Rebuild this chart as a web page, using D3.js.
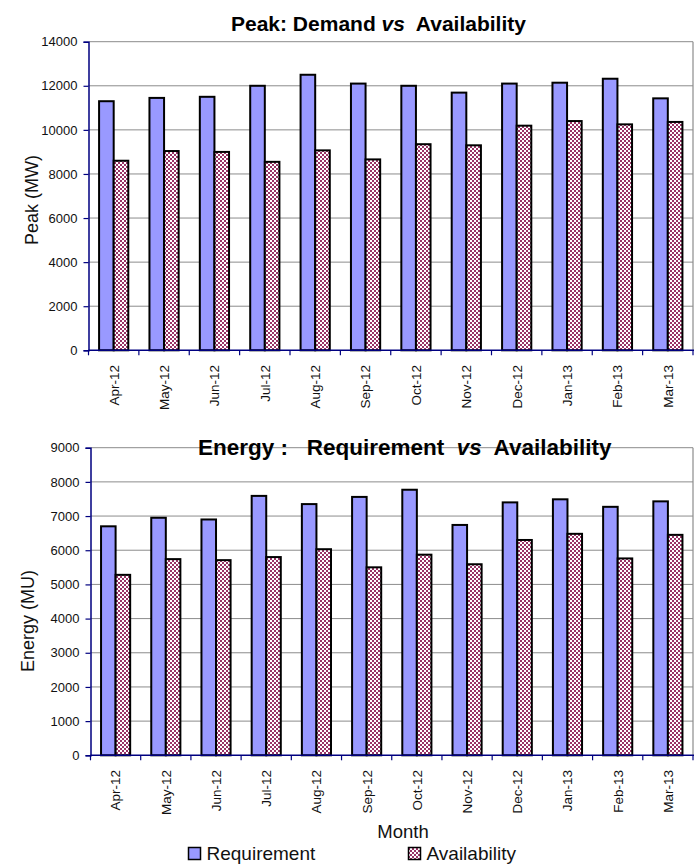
<!DOCTYPE html>
<html>
<head>
<meta charset="utf-8">
<script src="https://cdn.jsdelivr.net/npm/d3@7"></script>
<style>
  html, body { margin: 0; padding: 0; background: #fff; }
  svg { display: block; font-family: "Liberation Sans", Arial, sans-serif; }
  text { white-space: pre; }
</style>
</head>
<body>
<svg id="chart" width="694" height="864"></svg>
<script>
// Monthly peak and energy balance, Apr-12 to Mar-13
const months = ["Apr-12","May-12","Jun-12","Jul-12","Aug-12","Sep-12","Oct-12","Nov-12","Dec-12","Jan-13","Feb-13","Mar-13"];

const peakRequirement  = [11300, 11450, 11500, 12000, 12500, 12100, 12000, 11690, 12100, 12140, 12320, 11430];
const peakAvailability = [8600, 9040, 9000, 8550, 9070, 8660, 9350, 9300, 10190, 10400, 10250, 10360];
const peakTicks = [0, 2000, 4000, 6000, 8000, 10000, 12000, 14000];

const energyRequirement  = [6700, 6950, 6900, 7590, 7350, 7560, 7770, 6740, 7400, 7490, 7270, 7430];
const energyAvailability = [5280, 5740, 5710, 5800, 6030, 5500, 5870, 5590, 6300, 6480, 5760, 6450];
const energyTicks = [0, 1000, 2000, 3000, 4000, 5000, 6000, 7000, 8000, 9000];

const seriesNames = ["Requirement", "Availability"];

const svg = d3.select("#chart");
const NAVY = "#000080", GRID = "#8c8c8c", REQ = "#9999ff", AVL = "#993366";

// checkered fill for the availability bars
const defs = svg.append("defs");
const pat = defs.append("pattern").attr("id", "checks")
  .attr("patternUnits", "userSpaceOnUse").attr("width", 4).attr("height", 4);
pat.append("rect").attr("width", 4).attr("height", 4).attr("fill", "#fff");
pat.append("rect").attr("width", 2).attr("height", 2).attr("fill", AVL);
pat.append("rect").attr("x", 2).attr("y", 2).attr("width", 2).attr("height", 2).attr("fill", AVL);

function panel(cfg) {
  const g = svg.append("g");
  const x = d3.scaleBand().domain(months).range([cfg.left, cfg.right]).padding(0);
  const y = d3.scaleLinear().domain([0, d3.max(cfg.ticks)]).range([cfg.bottom, cfg.top]);

  // horizontal gridlines
  g.append("g").selectAll("line").data(cfg.ticks.slice(1)).join("line")
    .attr("x1", cfg.left).attr("x2", cfg.right)
    .attr("y1", d => y(d)).attr("y2", d => y(d))
    .attr("stroke", GRID).attr("stroke-width", 1);
  // right frame edge
  g.append("line").attr("x1", cfg.right).attr("x2", cfg.right)
    .attr("y1", cfg.top).attr("y2", cfg.bottom)
    .attr("stroke", GRID).attr("stroke-width", 1.2);

  // bars
  const bw = x.bandwidth();
  const groupOff = bw * 0.21, barW = bw * 0.29;
  const rows = months.map((m, i) => ({ m, req: cfg.req[i], avl: cfg.avl[i] }));
  const bars = g.append("g");
  bars.selectAll("rect.req").data(rows).join("rect").attr("class", "req")
    .attr("x", d => x(d.m) + groupOff).attr("width", barW)
    .attr("y", d => y(d.req)).attr("height", d => y(0) - y(d.req))
    .attr("fill", REQ).attr("stroke", "#000").attr("stroke-width", 2);
  bars.selectAll("rect.avl").data(rows).join("rect").attr("class", "avl")
    .attr("x", d => x(d.m) + groupOff + barW).attr("width", barW)
    .attr("y", d => y(d.avl)).attr("height", d => y(0) - y(d.avl))
    .attr("fill", "url(#checks)").attr("stroke", "#000").attr("stroke-width", 2);

  // y axis
  const ya = g.append("g").attr("transform", `translate(${cfg.left},0)`)
    .call(d3.axisLeft(y).tickValues(cfg.ticks).tickSize(5).tickPadding(6).tickFormat(d3.format("d")));
  ya.select(".domain").attr("stroke", NAVY).attr("stroke-width", 1.5);
  ya.selectAll(".tick line").attr("stroke", NAVY).attr("stroke-width", 1.2);
  ya.selectAll(".tick text").attr("font-size", 13).attr("fill", "#111")
    .attr("font-family", "Liberation Sans, Arial, sans-serif");

  // x axis: ticks on category boundaries, rotated month labels
  const xa = g.append("g").attr("transform", `translate(0,${cfg.bottom})`);
  xa.append("line").attr("x1", cfg.left).attr("x2", cfg.right + 1)
    .attr("stroke", NAVY).attr("stroke-width", 1.5);
  xa.selectAll("line.tk").data(months.concat([null])).join("line").attr("class", "tk")
    .attr("x1", (d, i) => cfg.left + i * bw).attr("x2", (d, i) => cfg.left + i * bw)
    .attr("y1", 0).attr("y2", 5).attr("stroke", NAVY).attr("stroke-width", 1.2);
  xa.selectAll("text").data(months).join("text")
    .attr("transform", d => `translate(${x(d) + bw / 2},${cfg.labelTop - cfg.bottom}) rotate(-90)`)
    .attr("dy", "0.36em").attr("text-anchor", "end")
    .attr("font-size", 13.5).attr("fill", "#111").text(d => d);

  // y axis title
  g.append("text")
    .attr("transform", `translate(${cfg.yTitleX},${cfg.yTitleY}) rotate(-90)`)
    .attr("text-anchor", "middle").attr("font-size", 18).attr("fill", "#111")
    .text(cfg.yTitle);

  // chart title with italic "vs"
  const t = g.append("text").attr("x", cfg.titleX).attr("y", cfg.titleY)
    .attr("font-size", cfg.titleSize).attr("font-weight", "bold").attr("fill", "#000");
  t.append("tspan").text(cfg.title[0]);
  t.append("tspan").attr("font-style", "italic").text("vs");
  t.append("tspan").text(cfg.title[1]);
}

panel({
  left: 88.5, right: 693, top: 41.7, bottom: 350.3, labelTop: 365,
  ticks: peakTicks, req: peakRequirement, avl: peakAvailability,
  yTitle: "Peak (MW)", yTitleX: 38, yTitleY: 200,
  title: ["Peak: Demand ", "  Availability"], titleX: 231, titleY: 31, titleSize: 21
});

panel({
  left: 90.5, right: 693, top: 447.7, bottom: 755.3, labelTop: 770,
  ticks: energyTicks, req: energyRequirement, avl: energyAvailability,
  yTitle: "Energy (MU)", yTitleX: 34, yTitleY: 621,
  title: ["Energy :   Requirement  ", "  Availability"], titleX: 198, titleY: 455, titleSize: 22.5
});

// shared x-axis title and legend
svg.append("text").attr("x", 403).attr("y", 838).attr("text-anchor", "middle")
  .attr("font-size", 18.5).attr("fill", "#111").text("Month");

const legend = svg.append("g");
const legendX = [188.5, 408.5];
legend.selectAll("rect").data(seriesNames).join("rect")
  .attr("x", (d, i) => legendX[i]).attr("y", 847.5).attr("width", 12).attr("height", 12)
  .attr("fill", (d, i) => i === 0 ? REQ : "url(#checks)")
  .attr("stroke", "#000").attr("stroke-width", 1.5);
legend.selectAll("text").data(seriesNames).join("text")
  .attr("x", (d, i) => legendX[i] + 18).attr("y", 859.5)
  .attr("font-size", 19).attr("fill", "#111").text(d => d);
</script>
</body>
</html>
